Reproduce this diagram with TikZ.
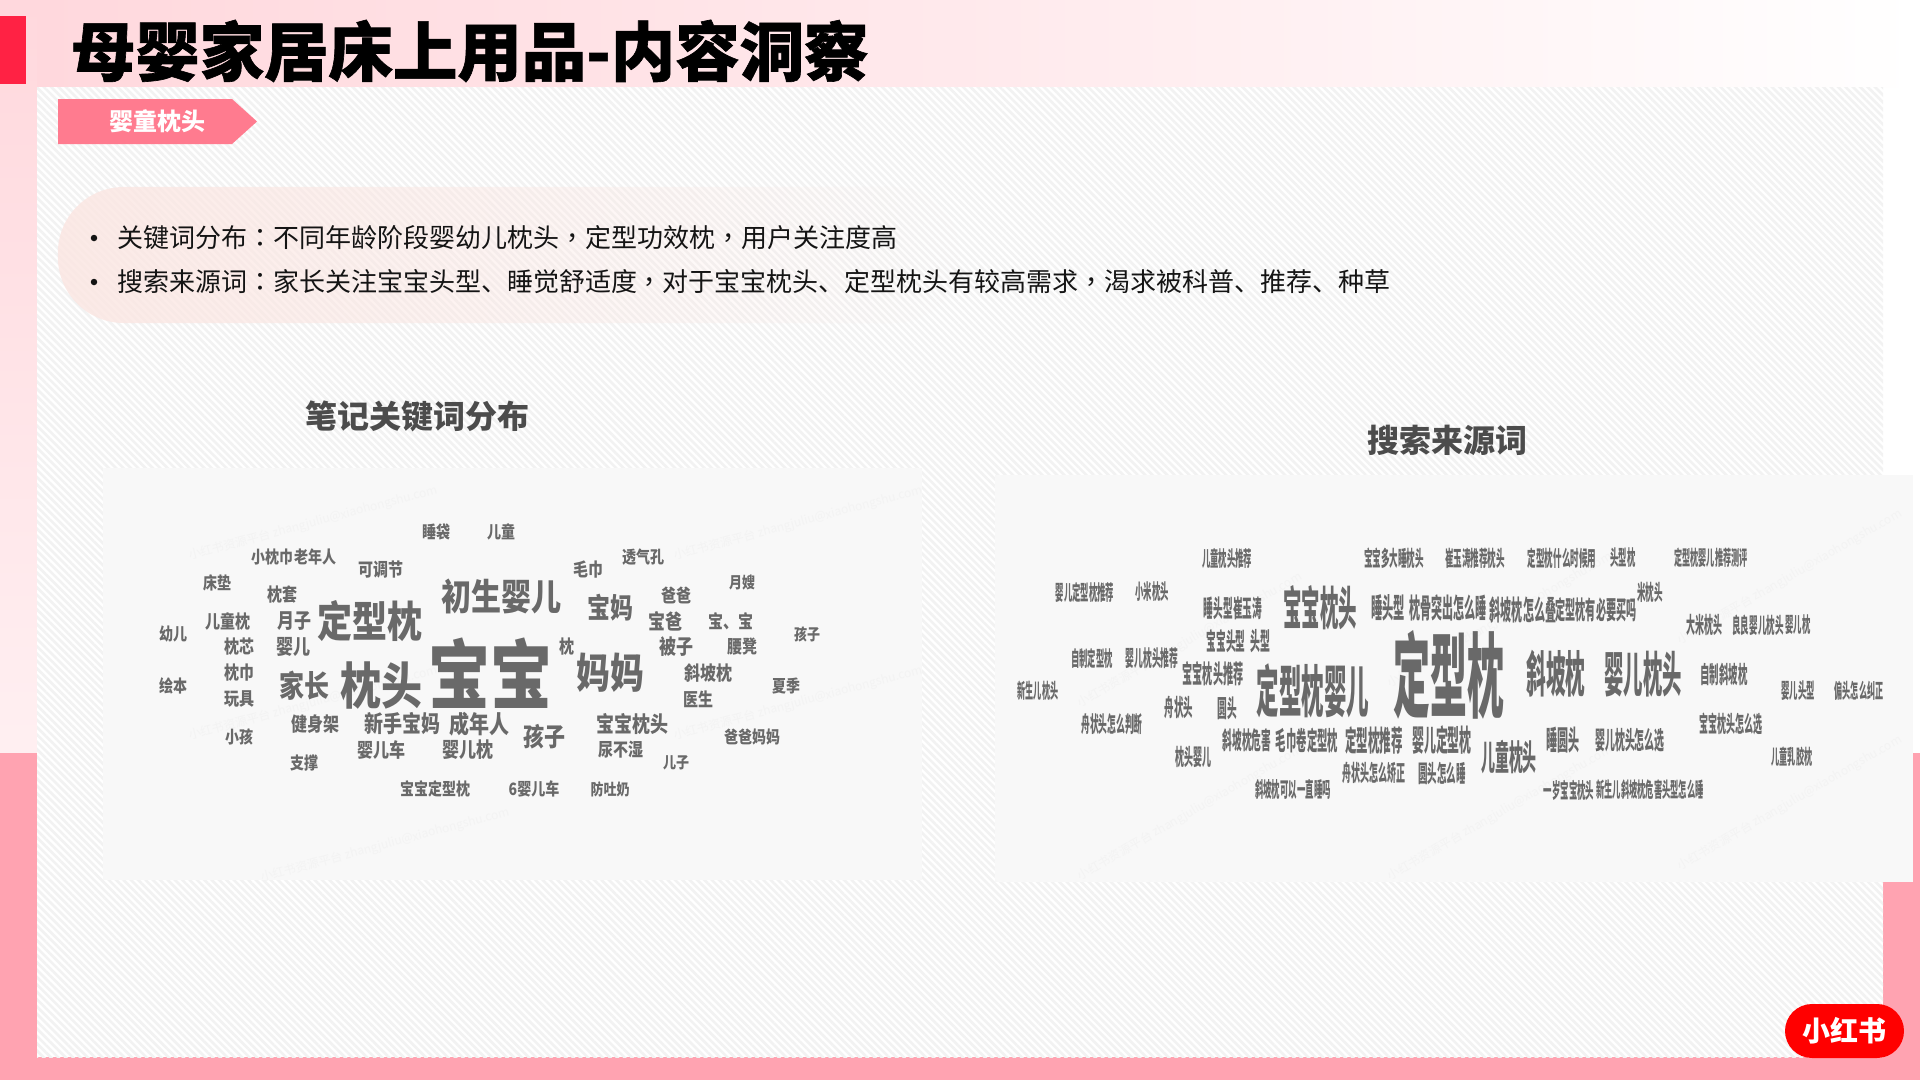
\documentclass[tikz,border=0pt]{standalone}
\usepackage{fontspec}
\usetikzlibrary{patterns.meta,fadings}
\setmainfont{Noto Sans CJK SC}
\newfontfamily\puncfont{Noto Sans CJK TC}
\newfontfamily\titlefont[BoldFeatures={FakeBold=1}]{Noto Sans CJK SC}
\newfontfamily\leftfont[FakeStretch=.82]{Noto Sans CJK SC}
\newfontfamily\rightfont[FakeStretch=.40]{Noto Sans CJK SC}
\newcommand{\pc}[1]{{\puncfont #1}}
\definecolor{pinkbar}{HTML}{FFA3B1}
\definecolor{pinksoft}{HTML}{FFD8DD}
\definecolor{redmark}{HTML}{FF2244}
\definecolor{tagpink}{HTML}{FF7B8F}
\definecolor{pillpink}{HTML}{FBE6E2}
\definecolor{cardgray}{HTML}{F8F8F8}
\definecolor{cloudgray}{HTML}{696969}
\definecolor{stripe}{HTML}{F2F2F2}
\definecolor{markgray}{HTML}{F3F3F3}
\begin{document}
\begin{tikzpicture}[
  x=1pt, y=-1pt,
  every node/.style={inner sep=0pt,outer sep=0pt},
  kwleft/.style={text=cloudgray,font={\leftfont\bfseries\fontsize{#1}{#1}\selectfont}},
  kwright/.style={text=cloudgray,font={\rightfont\bfseries\fontsize{#1}{#1}\selectfont}},
  headline/.style={text=black!70,font={\bfseries\fontsize{32}{32}\selectfont}},
  bulletline/.style={anchor=west,text=black!92,font={\fontsize{26}{26}\selectfont}},
  bulletdot/.style={circle,fill=black!92,minimum size=6.5pt},
  watermark/.style={text=markgray,rotate=#1,font={\fontsize{12}{12}\selectfont}}
]
\useasboundingbox (0,0) rectangle (1920,1080);

% --- Page background ---
\fill[white] (0,0) rectangle (1920,1080);
\shade[left color=pinksoft,right color=white,middle color=pinksoft!55] (37,0) rectangle (1920,87);
\shade[top color=pinksoft,bottom color=pinksoft!40] (0,0) rectangle (37,753);
\fill[pinkbar] (0,753) rectangle (37,1080);
\fill[pinkbar] (1883,753) rectangle (1920,1080);
\fill[pinkbar] (0,1057) rectangle (1920,1080);
\fill[white] (37,87) rectangle (1883,1057);
\fill[pattern={Lines[angle=-45,distance=5.2pt,line width=2.6pt]},pattern color=stripe]
  (37,87) rectangle (1883,1057);
\fill[redmark] (0,16) rectangle (26,84);

% --- Title and tag ---
\node[anchor=west,text=black,font={\titlefont\bfseries\fontsize{64.4}{64.4}\selectfont}] (title) at (71,51) {母婴家居床上用品-内容洞察};
\fill[tagpink] (58,99) -- (232,99) -- (257,121.5) -- (232,144) -- (58,144) -- cycle;
\node[text=white,font={\bfseries\fontsize{24}{24}\selectfont}] (tag) at (157,121) {婴童枕头};

% --- Summary ---
\fill[pillpink,fill opacity=.85,path fading=east,rounded corners=66pt] (58,187) rectangle (960,323);
\node[bulletdot] (dot1) at (94,238) {};
\node[bulletline] (line1) at (117,238) {关键词分布\pc{：}不同年龄阶段婴幼儿枕头\pc{，}定型功效枕\pc{，}用户关注度高};
\node[bulletdot] (dot2) at (94,282) {};
\node[bulletline] (line2) at (117,282) {搜索来源词\pc{：}家长关注宝宝头型、睡觉舒适度\pc{，}对于宝宝枕头、定型枕头有较高需求\pc{，}渴求被科普、推荐、种草};

% --- Cloud cards ---
\fill[cardgray] (103,468) rectangle (922,880);
\fill[cardgray] (995,475) rectangle (1913,882);
\node[headline] (headl) at (417.5,416) {笔记关键词分布};
\node[headline] (headr) at (1447.5,440) {搜索来源词};

% --- Watermarks ---
\foreach \wx/\wy/\wr [count=\i] in {313/523/15,313/703/15,798/523/15,798/703/15,385/845/15,
  1190/640/30,1190/813/30,1500/620/30,1500/813/30,1790/577/30,1790/803/30}
  \node[watermark=\wr] (mark\i) at (\wx,\wy) {小红书资源平台 zhangjuliu@xiaohongshu.com};

% --- Left cloud ---
\foreach \kx/\ky/\ks/\kt [count=\i] in {
  436/532/14/睡袋, 501/532/14/儿童, 272/557/14/小枕巾, 315/557/14/老年人, 381/570/15/可调节,
  217/583/14/床垫, 282/595/15/枕套, 228/621/15/儿童枕, 294/621/17/月子, 370/621/35/定型枕,
  173/634/14/幼儿, 239/647/15/枕芯, 293/647/17/婴儿, 239/673/15/枕巾, 173/686/14/绘本,
  304/686/25/家长, 381/686/41/枕头, 490/673/62/宝宝, 239/699/15/玩具, 315/724/16/健身架,
  402/724/19/新手宝妈, 479/724/20/成年人, 239/737/14/小孩, 381/750/16/婴儿车, 468/750/17/婴儿枕,
  304/763/14/支撑, 435/789/14/宝宝定型枕, 501/596/30/初生婴儿, 588/570/15/毛巾, 643/557/14/透气孔,
  610/608/23/宝妈, 676/595/15/爸爸, 742/583/13/月嫂, 665/621/17/宝爸, 731/621/15/宝、宝,
  807/634/13/孩子, 567/647/15/枕, 676/647/17/被子, 742/647/15/腰凳, 610/673/34/妈妈,
  708/673/16/斜坡枕, 698/699/15/医生, 786/686/14/夏季, 632/724/18/宝宝枕头, 544/737/21/孩子,
  752/737/14/爸爸妈妈, 621/750/15/尿不湿, 676/763/13/儿子, 534/789/14/6婴儿车, 610/789/13/防吐奶}
{
  \pgfmathsetmacro\ksz{\ks/.82}
  \node[kwleft=\ksz] (kwl\i) at (\kx,\ky) {\kt};
}

% --- Right cloud ---
\foreach \kx/\ky/\ks/\kt [count=\i] in {
  1227/558/18.5/儿童枕头推荐, 1394/558/19/宝宝多大睡枕头, 1475/558/19/崔玉涛推荐枕头,
  1562/558/19/定型枕什么时候用, 1623/558/18.5/头型枕, 1711/558/18/定型枕婴儿推荐测评,
  1085/592/18.5/婴儿定型枕推荐, 1152/592/18.5/小米枕头, 1650/592/19/米枕头,
  1233/608/21.5/睡头型崔玉涛, 1320/608/41/宝宝枕头, 1388/608/25/睡头型,
  1448/608/24.5/枕骨突出怎么睡, 1523/610/24.5/斜坡枕怎么叠, 1596/610/22.5/定型枕有必要买吗,
  1704/625/20/大米枕头, 1758/625/19/良良婴儿枕头, 1798/625/18.5/婴儿枕,
  1226/641/21.5/宝宝头型, 1260/641/22/头型, 1092/658/18.5/自制定型枕, 1152/658/19.5/婴儿枕头推荐,
  1449/675/82/定型枕, 1313/691/50/定型枕婴儿, 1213/674/22.5/宝宝枕头推荐, 1556/674/43.7/斜坡枕,
  1643/674/43/婴儿枕头, 1724/674/21/自制斜坡枕, 1038/691/18/新生儿枕头, 1798/691/18.5/婴儿头型,
  1859/691/18/偏头怎么纠正, 1179/708/21/舟状头, 1227/708/21.5/圆头, 1112/724/19.5/舟状头怎么判断,
  1731/724/20/宝宝枕头怎么选, 1247/740/21.5/斜坡枕危害, 1307/740/23/毛巾卷定型枕,
  1374/740/25.5/定型枕推荐, 1442/740/26.5/婴儿定型枕, 1563/740/24.5/睡圆头, 1630/740/22/婴儿枕头怎么选,
  1509/757/31/儿童枕头, 1193/757/20/枕头婴儿, 1792/757/18/儿童乳胶枕, 1374/773/20/舟状头怎么矫正,
  1442/773/21/圆头怎么睡, 1293/789/18.7/斜坡枕可以一直睡吗, 1569/790/18.7/一岁宝宝枕头,
  1650/790/18.3/新生儿斜坡枕危害头型怎么睡}
{
  \pgfmathsetmacro\ksz{\ks*1.125}
  \node[kwright=\ksz] (kwr\i) at (\kx,\ky) {\kt};
}

% --- Logo ---
\node[fill=red,rounded corners=27pt,minimum width=119pt,minimum height=54pt,text=white,
  font={\bfseries\fontsize{28}{28}\selectfont}] (logo) at (1844.5,1031) {小红书};

\end{tikzpicture}
\end{document}
